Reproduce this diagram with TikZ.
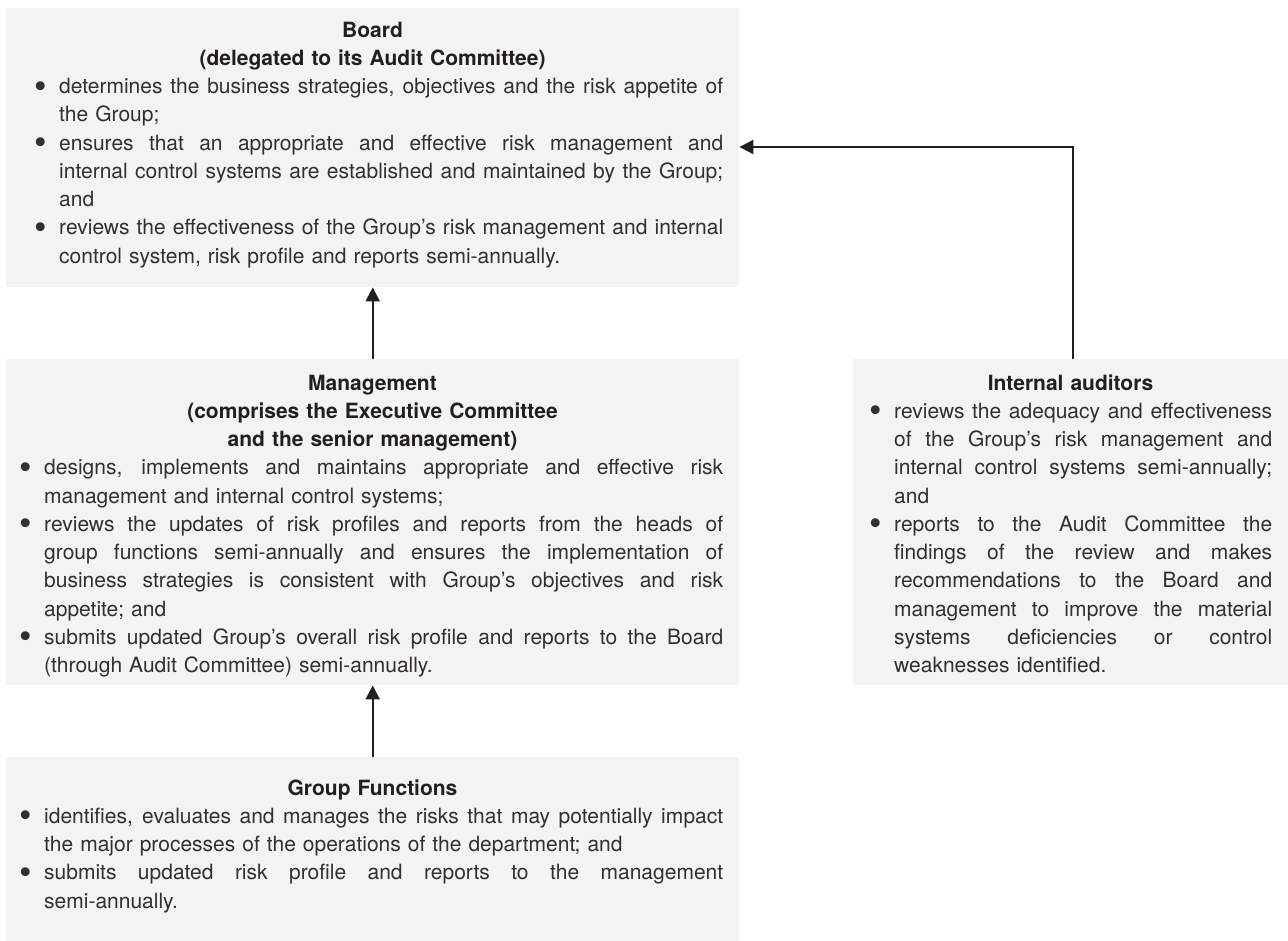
\documentclass[tikz,border=0pt]{standalone}
\usepackage{fontspec}
\setmainfont{TeX Gyre Heros}
\usepackage{graphicx}
\usetikzlibrary{arrows.meta}
\definecolor{boxfill}{HTML}{F3F3F3}
\definecolor{ink}{HTML}{231F20}
\definecolor{bodyink}{HTML}{332E2F}
\newlength\jlw
\newlength\jtw
\newcommand\jsp{\spaceskip=.28em plus 1em minus .05em\relax\xspaceskip=\spaceskip}
\newcommand\jl[1]{\noindent{\jsp\settowidth\jlw{#1}\ifdim\jlw>\jtw\resizebox{\jtw}{\height}{#1}\else\hbox to\jtw{#1}\fi}\par}
\newcommand\rl[1]{\noindent{\settowidth\jlw{#1}\ifdim\jlw>\jtw\resizebox{\jtw}{\height}{#1}\else#1\fi}\par}
\newcommand\bul{\noindent\llap{\makebox[0pt]{\raisebox{-4.5pt}{\scalebox{1.7}{\textbullet}}}\hspace{18pt}}\rule{0pt}{21pt}}
\tikzset{
  panel/.style={fill=boxfill, draw=none, inner sep=0pt, anchor=north west},
  titletext/.style={inner sep=0pt, anchor=north, text=ink, font=\fontsize{21}{28.25}\selectfont\bfseries},
  bodytext/.style={inner sep=0pt, anchor=north west, text=bodyink, font=\fontsize{21}{28.25}\selectfont},
  arr/.style={draw=ink, line width=2pt, miter limit=10, -{Triangle[length=14pt,width=14pt]}}
}
\begin{document}
\begin{tikzpicture}[x=1pt,y=1pt]
\useasboundingbox (0,0) rectangle (1288,-941);
% panels
\node[panel, minimum width=733pt, minimum height=279pt] (board) at (6,-8) {};
\node[panel, minimum width=733pt, minimum height=326pt] (mgmt) at (6,-359) {};
\node[panel, minimum width=733pt, minimum height=184pt] (grp) at (6,-757) {};
\node[panel, minimum width=435pt, minimum height=326pt] (aud) at (853,-359) {};
% Board
\node[titletext, text width=733pt] (boardtitle) at (372.5,-16) {\centering\rule{0pt}{21pt}Board\par (delegated to its Audit Committee)\par};
\node[bodytext, text width=664pt] (boardtxt) at (59,-72.5) {\setlength\jtw{664pt}%
\bul\jl{determines the business strategies, objectives and the risk appetite of}
\rl{the Group;}
\bul\jl{ensures that an appropriate and effective risk management and}
\jl{internal control systems are established and maintained by the Group;}
\rl{and}
\bul\jl{reviews the effectiveness of the Group’s risk management and internal}
\rl{control system, risk profile and reports semi-annually.}};
% Management
\node[titletext, text width=733pt] (mgmttitle) at (372.5,-369) {\centering\rule{0pt}{21pt}Management\par (comprises the Executive Committee\par and the senior management)\par};
\node[bodytext, text width=679pt] (mgmttxt) at (44,-453.75) {\setlength\jtw{679pt}%
\bul\jl{designs, implements and maintains appropriate and effective risk}
\rl{management and internal control systems;}
\bul\jl{reviews the updates of risk profiles and reports from the heads of}
\jl{group functions semi-annually and ensures the implementation of}
\jl{business strategies is consistent with Group’s objectives and risk}
\rl{appetite; and}
\bul\jl{submits updated Group’s overall risk profile and reports to the Board}
\rl{(through Audit Committee) semi-annually.}};
% Group Functions
\node[titletext, text width=733pt] (grptitle) at (372.5,-774) {\centering\rule{0pt}{21pt}Group Functions\par};
\node[bodytext, text width=679pt] (grptxt) at (44,-802.25) {\setlength\jtw{679pt}%
\bul\jl{identifies, evaluates and manages the risks that may potentially impact}
\rl{the major processes of the operations of the department; and}
\bul\jl{submits updated risk profile and reports to the management}
\rl{semi-annually.}};
% Internal auditors
\node[titletext, text width=435pt] (audtitle) at (1070.5,-369) {\centering\rule{0pt}{21pt}Internal auditors\par};
\node[bodytext, text width=378pt] (audtxt) at (894,-397.25) {\setlength\jtw{378pt}%
\bul\jl{reviews the adequacy and effectiveness}
\jl{of the Group’s risk management and}
\jl{internal control systems semi-annually;}
\rl{and}
\bul\jl{reports to the Audit Committee the}
\jl{findings of the review and makes}
\jl{recommendations to the Board and}
\jl{management to improve the material}
\jl{systems deficiencies or control}
\rl{weaknesses identified.}};
% connectors
\draw[arr] (mgmt.north) -- (board.south);
\draw[arr] (grp.north) -- (mgmt.south);
\coordinate (bend) at (1073,-147);
\draw[arr] (aud.north -| bend) -- (bend) -- (board.east |- bend);
\end{tikzpicture}
\end{document}
